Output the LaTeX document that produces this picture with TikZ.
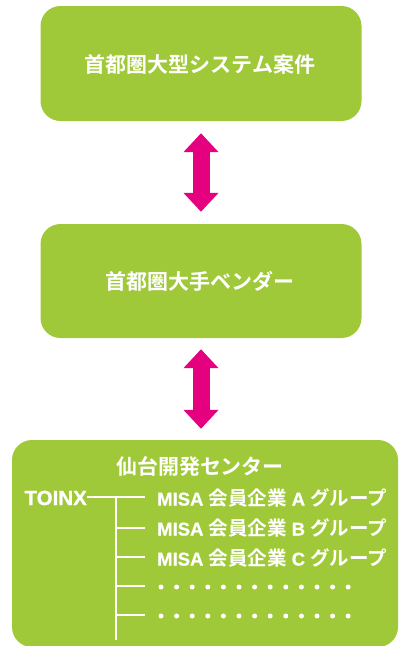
\documentclass[tikz,border=0pt]{standalone}
\usepackage{fontspec}
\setmainfont{Liberation Sans}[BoldFont={Liberation Sans Bold},BoldFeatures={FakeBold=0.8}]
\newfontfamily\cjk{Noto Sans CJK JP}[BoldFont={Noto Sans CJK JP Bold}]
\usetikzlibrary{arrows.meta}
\definecolor{leaf}{RGB}{160,201,58}
\definecolor{mag}{RGB}{228,0,127}
\newcommand\jp[1]{{\cjk\bfseries\fontsize{19.5}{20}\selectfont #1}}
\begin{document}
\begin{tikzpicture}[x=1pt,y=-1pt,
  box/.style={fill=leaf,rounded corners=20pt,inner sep=0pt},
  lbl/.style={text=white,inner sep=0pt},
  arr/.style={draw=mag,line width=17pt,{Triangle[width=34pt,length=19pt]}-{Triangle[width=34pt,length=19pt]}},
  tree/.style={draw=white,line width=2pt}]
\useasboundingbox (0,0) rectangle (400,646);
\node[box,minimum width=321pt,minimum height=115pt] (b1) at (201,63.5) {};
\node[box,minimum width=321pt,minimum height=114pt] (b2) at (201,281) {};
\begin{scope}
\clip (0,0) rectangle (400,646);
\node[box,minimum width=386pt,minimum height=207pt] (b3) at (205,543.5) {};
\end{scope}
\node[lbl,font=\cjk\bfseries\fontsize{21}{22}\selectfont] (t1) at (200,64) {首都圏大型システム案件};
\node[lbl,font=\cjk\bfseries\fontsize{21}{22}\selectfont] (t2) at (200,281) {首都圏大手ベンダー};
\node[lbl,font=\cjk\bfseries\fontsize{21}{22}\selectfont] (t3) at (200,466) {仙台開発センター};
\draw[arr,shorten <=12pt,shorten >=12pt] (b1.south) -- (b2.north);
\draw[arr,shorten <=11pt,shorten >=11pt] (b2.south) -- (b2.south |- b3.north);
\node[lbl,anchor=east,font=\bfseries\fontsize{20.5}{21}\selectfont] (toinx) at (87,498) {TOINX};
\coordinate (j) at (116,497);
\coordinate (e0) at (145,497);
\coordinate (bot) at (116,640);
\draw[tree] (toinx.east |- j) -- (e0);
\draw[tree] (j) -- (bot);
\foreach \y/\n in {528/1,557/2,586/3,615/4}{
  \coordinate (s\n) at (116,\y);
  \coordinate (e\n) at (145,\y);
  \draw[tree] (s\n) -- (e\n);
}
\foreach \y/\L/\n in {498/A/a,528/B/b,558/C/c}{
  \node[lbl,anchor=west,font=\bfseries\fontsize{18.5}{20}\selectfont] (g\n) at (157,\y)
    {MISA \jp{会員企業} \L{} \jp{グループ}};
}
\foreach \y in {587,616}{
  \foreach \i in {0,...,12}{
    \fill[white] (161+15.6*\i,\y) circle (2.5pt);
  }
}
\end{tikzpicture}
\end{document}
